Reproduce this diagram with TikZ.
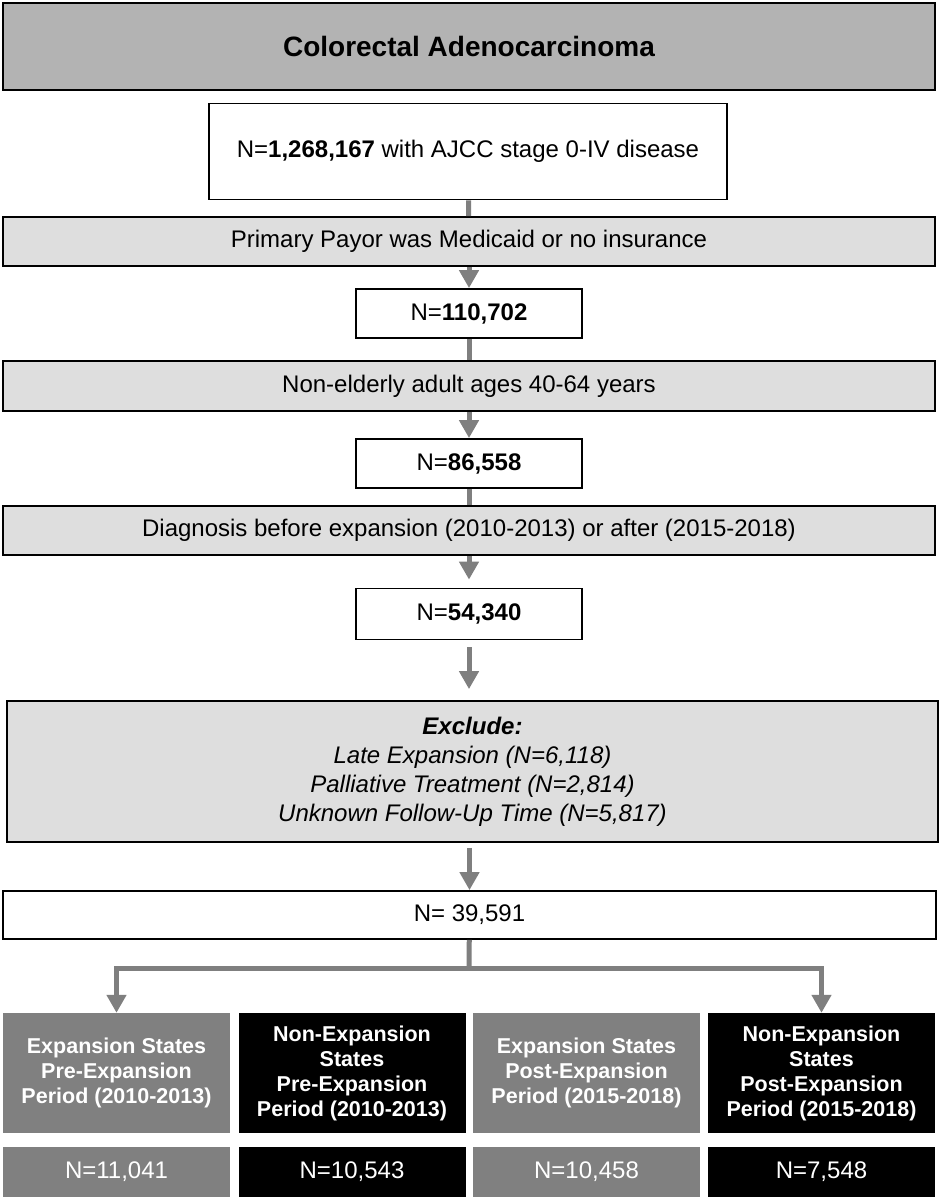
\documentclass[tikz,border=0pt]{standalone}
\usepackage{fontspec}
\setmainfont{Liberation Sans}
\usetikzlibrary{arrows.meta}

\definecolor{titlegray}{HTML}{B3B3B3}
\definecolor{shadegray}{HTML}{DEDEDE}
\definecolor{groupgray}{HTML}{808080}
\definecolor{arrowgray}{HTML}{7F7F7F}

\tikzset{
    box/.style={draw=black, line width=1.8pt, inner sep=0pt, minimum height=49pt,
        align=center, font=\fontsize{24}{29}\selectfont},
    widebox/.style={box, fill=shadegray, minimum width=932pt},
    numbox/.style={box, fill=white, minimum width=226pt},
    groupbox/.style={inner sep=0pt, minimum width=227pt, minimum height=120pt, text=white,
        align=center, font=\bfseries\fontsize{21.5}{25}\selectfont},
    countbox/.style={inner sep=0pt, minimum width=227pt, minimum height=50pt, text=white,
        font=\fontsize{24}{29}\selectfont},
    link/.style={draw=arrowgray, line width=5pt},
    arr/.style={link, -{Triangle[width=19pt,length=18pt]}}
}

\begin{document}
\begin{tikzpicture}[x=1pt,y=-1pt] %Diagrama de flujo de la cohorte
        \useasboundingbox[fill=white] (0,0) rectangle (940,1200);

        \node[box, fill=titlegray, minimum width=932pt, minimum height=87pt,
            font=\bfseries\fontsize{28}{33}\selectfont] (title) at (469,46.5) {Colorectal Adenocarcinoma};
        \node[box, fill=white, minimum width=518pt, minimum height=96pt] (cohort) at (468,151.5)
            {N=\textbf{1,268,167} with AJCC stage 0-IV disease};

        \node[widebox] (payor) at (469,241.5) {Primary Payor was Medicaid or no insurance};
        \node[numbox] (n1) at (469,313.5) {N=\textbf{110,702}};
        \node[widebox, minimum height=50pt] (age) at (469,386) {Non-elderly adult ages 40-64 years};
        \node[numbox] (n2) at (469,463.5) {N=\textbf{86,558}};
        \node[widebox] (diag) at (469,530.5) {Diagnosis before expansion (2010-2013) or after (2015-2018)};
        \node[numbox, minimum height=51pt] (n3) at (469,614) {N=\textbf{54,340}};

        \node[widebox, minimum width=931pt, minimum height=141pt, font=\itshape\fontsize{24}{29}\selectfont]
            (excl) at (472.5,771.5)
            {\textbf{Exclude:}\\Late Expansion (N=6,118)\\Palliative Treatment (N=2,814)\\Unknown Follow-Up Time (N=5,817)};

        \node[box, fill=white, minimum width=933pt, minimum height=48pt] (final) at (469.5,915) {N= 39,591};
        \coordinate (split) at (469,968);

        \node[groupbox, fill=groupgray] (preE) at (116.5,1073) {Expansion States\\Pre-Expansion\\Period (2010-2013)};
        \node[groupbox, fill=black] (preN) at (352,1073) {Non-Expansion\\States\\Pre-Expansion\\Period (2010-2013)};
        \node[groupbox, fill=groupgray] (postE) at (586.5,1073) {Expansion States\\Post-Expansion\\Period (2015-2018)};
        \node[groupbox, fill=black] (postN) at (821.5,1073) {Non-Expansion\\States\\Post-Expansion\\Period (2015-2018)};

        \node[countbox, fill=groupgray] (cpreE) at (116.5,1172) {N=11,041};
        \node[countbox, fill=black] (cpreN) at (352,1172) {N=10,543};
        \node[countbox, fill=groupgray] (cpostE) at (586.5,1172) {N=10,458};
        \node[countbox, fill=black] (cpostN) at (821.5,1172) {N=7,548};

        \draw[link] (cohort) -- (payor);
        \draw[arr] (payor) -- (n1);
        \draw[link] (n1) -- (age);
        \draw[arr] (age) -- (n2);
        \draw[link] (n2) -- (diag);
        \draw[arr, shorten >=8pt] (diag) -- (n3);
        \draw[arr, shorten <=7pt, shorten >=11pt] (n3.south) -- (n3.south |- excl.north);
        \draw[arr, shorten <=5pt] (excl.south -| final.north) -- (final.north);
        \draw[link] (final) -- (split);
        \draw[arr] (split) -| (preE);
        \draw[arr] (split) -| (postN);
    \end{tikzpicture}
\end{document}
